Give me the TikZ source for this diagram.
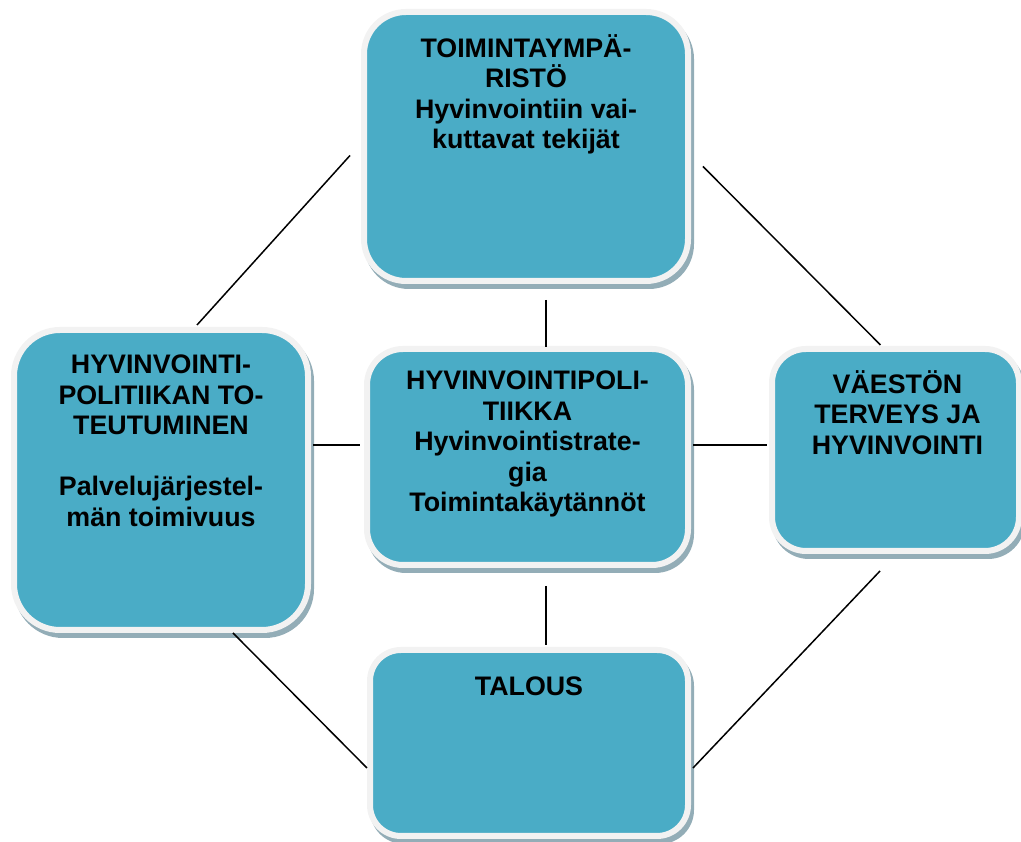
\documentclass[tikz,border=0pt]{standalone}
\usepackage{fontspec}
\setmainfont{Liberation Sans}
\usetikzlibrary{positioning, shadows}
\definecolor{boxfill}{HTML}{4AACC6}
\definecolor{boxrim}{HTML}{F2F2F2}
\definecolor{boxshade}{HTML}{93ADB7}

\begin{document}
\begin{tikzpicture}[x=1pt, y=1pt,
    block/.style={rectangle, fill=boxfill, draw=boxrim, line width=6pt,
        drop shadow={shadow xshift=3pt, shadow yshift=-5pt, fill=boxshade,
            draw=boxshade, line width=6pt, opacity=1}},
    blocktext/.style={align=center, inner sep=0pt, anchor=north,
        font=\fontsize{26.8}{30.5}\selectfont\bfseries,
        execute at begin node=\rule{0pt}{24pt}},
    link/.style={line width=1.5pt, black}]
    \useasboundingbox (0,0) rectangle (1021,842);

    % boxes
    \node [block, minimum width=324pt, minimum height=269pt, rounded corners=42pt] (env) at (526,695.5) {};
    \node [block, minimum width=294pt, minimum height=300pt, rounded corners=46pt] (impl) at (161,362) {};
    \node [block, minimum width=321pt, minimum height=216pt, rounded corners=36pt] (policy) at (527.5,385) {};
    \node [block, minimum width=247pt, minimum height=202pt, rounded corners=34pt] (health) at (895.5,392) {};
    \node [block, minimum width=318pt, minimum height=186pt, rounded corners=31pt] (economy) at (529,99) {};

    % texts
    \node [blocktext, below=25pt of env.north] (envtext)
        {TOIMINTAYMPÄ-\\RISTÖ\\Hyvinvointiin vai-\\kuttavat tekijät};
    \node [blocktext, below=28pt of impl.north] (impltext)
        {HYVINVOINTI-\\POLITIIKAN TO-\\TEUTUMINEN\\[30.5pt]Palvelujärjestel-\\män toimivuus};
    \node [blocktext, below=25pt of policy.north] (policytext)
        {HYVINVOINTIPOLI-\\TIIKKA\\Hyvinvointistrate-\\gia\\Toimintakäytännöt};
    \node [blocktext, below=24pt of health.north, xshift=2pt] (healthtext)
        {VÄESTÖN\\TERVEYS JA\\HYVINVOINTI};
    \node [blocktext, below=24pt of economy.north] (economytext) {TALOUS};

    % connectors
    \draw [link] ([shift={(-11,-9)}]env.west) -- ([shift={(36,2)}]impl.north);
    \draw [link] ([shift={(12,-20)}]env.east) -- ([shift={(-15,1)}]health.north);
    \draw [link] ([shift={(20,-16)}]env.south) -- ([shift={(18.5,-1)}]policy.north);
    \draw [link] ([shift={(2,35)}]impl.east) -- ([shift={(-4,12)}]policy.west);
    \draw [link] ([shift={(2,12)}]policy.east) -- ([shift={(-2,5)}]health.west);
    \draw [link] ([shift={(18.5,-18)}]policy.south) -- ([shift={(17,2)}]economy.north);
    \draw [link] ([shift={(72,0)}]impl.south) -- ([shift={(0,-25)}]economy.west);
    \draw [link] ([shift={(-15.5,-17)}]health.south) -- ([shift={(2,-25)}]economy.east);
\end{tikzpicture}
\end{document}
